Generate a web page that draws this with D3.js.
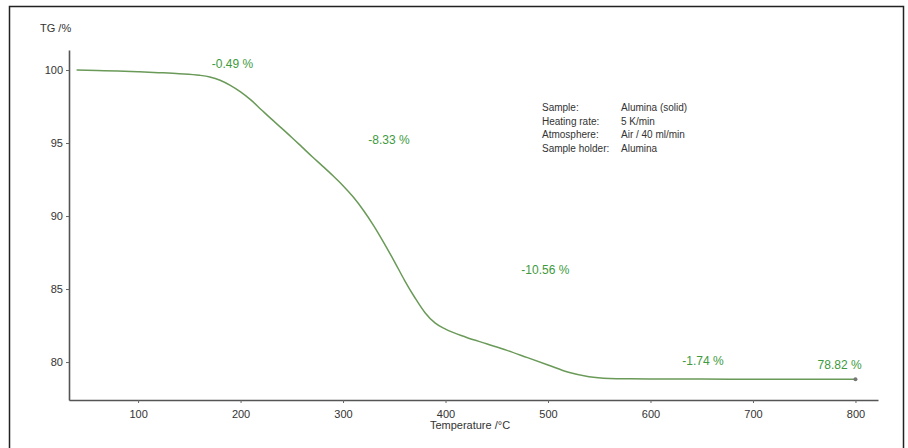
<!DOCTYPE html>
<html><head><meta charset="utf-8">
<script src="https://cdn.jsdelivr.net/npm/d3@7"></script>
<style>body{margin:0;background:#fff;}svg{display:block;font-family:"Liberation Sans",Arial,sans-serif;}</style>
</head><body><svg id="c" width="908" height="448"></svg>
<script>
const temperature = [40,60,80,100,120,140,160,170,180,190,200,210,220,230,240,250,260,270,280,290,300,310,320,330,340,350,360,370,380,390,400,420,440,460,480,500,520,540,560,580,600,650,700,750,800];
const tg = [100.0,99.97,99.93,99.88,99.82,99.75,99.64,99.52,99.3,98.95,98.5,97.95,97.3,96.65,96.02,95.38,94.72,94.06,93.42,92.77,92.08,91.3,90.38,89.33,88.15,86.9,85.6,84.42,83.38,82.66,82.25,81.7,81.25,80.8,80.3,79.8,79.3,79.0,78.88,78.85,78.84,78.83,78.82,78.82,78.82];
const xTicks = [100,200,300,400,500,600,700,800];
const yTicks = [80,85,90,95,100];
const stepLabels = [{t:172,v:100.14,s:"-0.49 %"},{t:324.6,v:94.93,s:"-8.33 %"},{t:474,v:86.03,s:"-10.56 %"},{t:631,v:79.8,s:"-1.74 %"},{t:763,v:79.52,s:"78.82 %"}];
const infoKeys = ["Sample:","Heating rate:","Atmosphere:","Sample holder:"];
const infoVals = ["Alumina (solid)","5 K/min","Air / 40 ml/min","Alumina"];

const svg = d3.select("#c");
svg.append("rect").attr("x",9.5).attr("y",6.5).attr("width",894).attr("height",450)
  .attr("fill","none").attr("stroke","#222").attr("stroke-width",1.5);

const x = d3.scaleLinear().domain([32.6,822]).range([69,878]);
const y = d3.scaleLinear().domain([77.4,101.37]).range([400,50]);

const gx = svg.append("g").attr("transform","translate(0,400)")
  .call(d3.axisBottom(x).tickValues(xTicks).tickSize(3).tickSizeOuter(0));
const gy = svg.append("g").attr("transform","translate(69,0)")
  .call(d3.axisLeft(y).tickValues(yTicks).tickSize(3).tickSizeOuter(0));
[gx,gy].forEach(g=>{
  g.select(".domain").attr("stroke","#555").attr("stroke-width",1.6);
  g.selectAll(".tick line").attr("stroke","#666");
  g.selectAll(".tick text").attr("fill","#333").attr("font-size",11);
});
gx.selectAll(".tick text").attr("dy","1.05em");

svg.append("text").attr("x",40).attr("y",32).attr("font-size",11).attr("fill","#333").text("TG /%");
svg.append("text").attr("x",470).attr("y",429).attr("text-anchor","middle").attr("font-size",11).attr("fill","#333").text("Temperature /°C");

const line = d3.line().x((d,i)=>x(temperature[i])).y(d=>y(d)).curve(d3.curveMonotoneX);
svg.append("path").datum(tg).attr("d",line).attr("fill","none").attr("stroke","#6a9a58").attr("stroke-width",1.5);
svg.append("circle").attr("cx",x(800)).attr("cy",y(78.82)).attr("r",2).attr("fill","#777");

svg.selectAll(".step").data(stepLabels).join("text").attr("class","step")
  .attr("x",d=>x(d.t)).attr("y",d=>y(d.v)).attr("font-size",12).attr("fill","#3e9a3e").text(d=>d.s);

const info = svg.append("g").attr("font-size",10).attr("fill","#333");
infoKeys.forEach((k,i)=>{
  info.append("text").attr("x",542).attr("y",111+i*13.7).text(k);
  info.append("text").attr("x",621).attr("y",111+i*13.7).text(infoVals[i]);
});
</script></body></html>
